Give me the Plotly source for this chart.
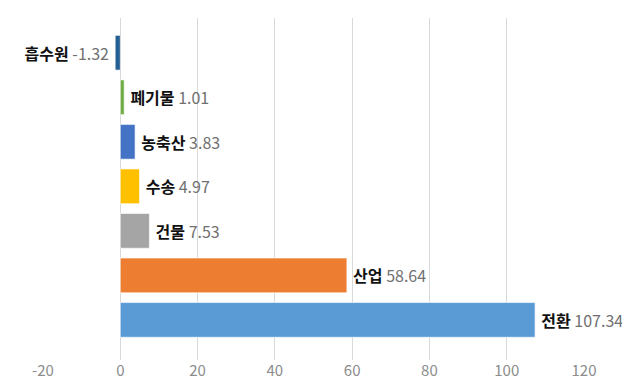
import plotly.graph_objects as go

categories = ["흡수원", "폐기물", "농축산", "수송", "건물", "산업", "전환"]
values = [-1.32, 1.01, 3.83, 4.97, 7.53, 58.64, 107.34]
colors = ["#255e91", "#70ad47", "#4472c4", "#ffc000", "#a5a5a5", "#ed7d31", "#5b9bd5"]
tick_vals = [-20, 0, 20, 40, 60, 80, 100, 120]

labels = []
for c, v in zip(categories, values):
    t = f"<b>{c}</b> <span style='color:#707070'>{v:.2f}</span>"
    labels.append(t + "\u2009" if v < 0 else "\u2009" + t)

fig = go.Figure(go.Bar(
    x=values,
    y=categories,
    orientation="h",
    marker=dict(color=colors, line=dict(color="rgba(255,255,255,0.6)", width=1)),
    width=0.78,
    text=labels,
    textposition="outside",
    constraintext="none",
    cliponaxis=False,
    textfont=dict(family="Noto Sans CJK KR", size=16, color="#111111"),
    hoverinfo="skip",
))

# page body has an 8px default margin; compensate so the plot lands where the reference has it
fig.update_layout(
    width=622, height=384,
    margin=dict(l=35, r=46, t=10, b=32, autoexpand=False),
    paper_bgcolor="white", plot_bgcolor="white",
    showlegend=False,
    xaxis=dict(
        range=[-20, 120],
        tickvals=tick_vals,
        ticktext=[str(t) for t in tick_vals],
        showgrid=True, gridcolor="#d9d9d9", gridwidth=1,
        zeroline=False, showline=False, automargin=False,
        tickfont=dict(family="Noto Sans CJK KR", size=15, color="#8c8c8c"),
        ticks="",
    ),
    yaxis=dict(
        type="category",
        categoryorder="array", categoryarray=categories,
        range=[6.9, -0.78], automargin=False,
        showticklabels=False, showgrid=False, zeroline=False, showline=False, ticks="",
    ),
)

fig.write_html("out.html")
